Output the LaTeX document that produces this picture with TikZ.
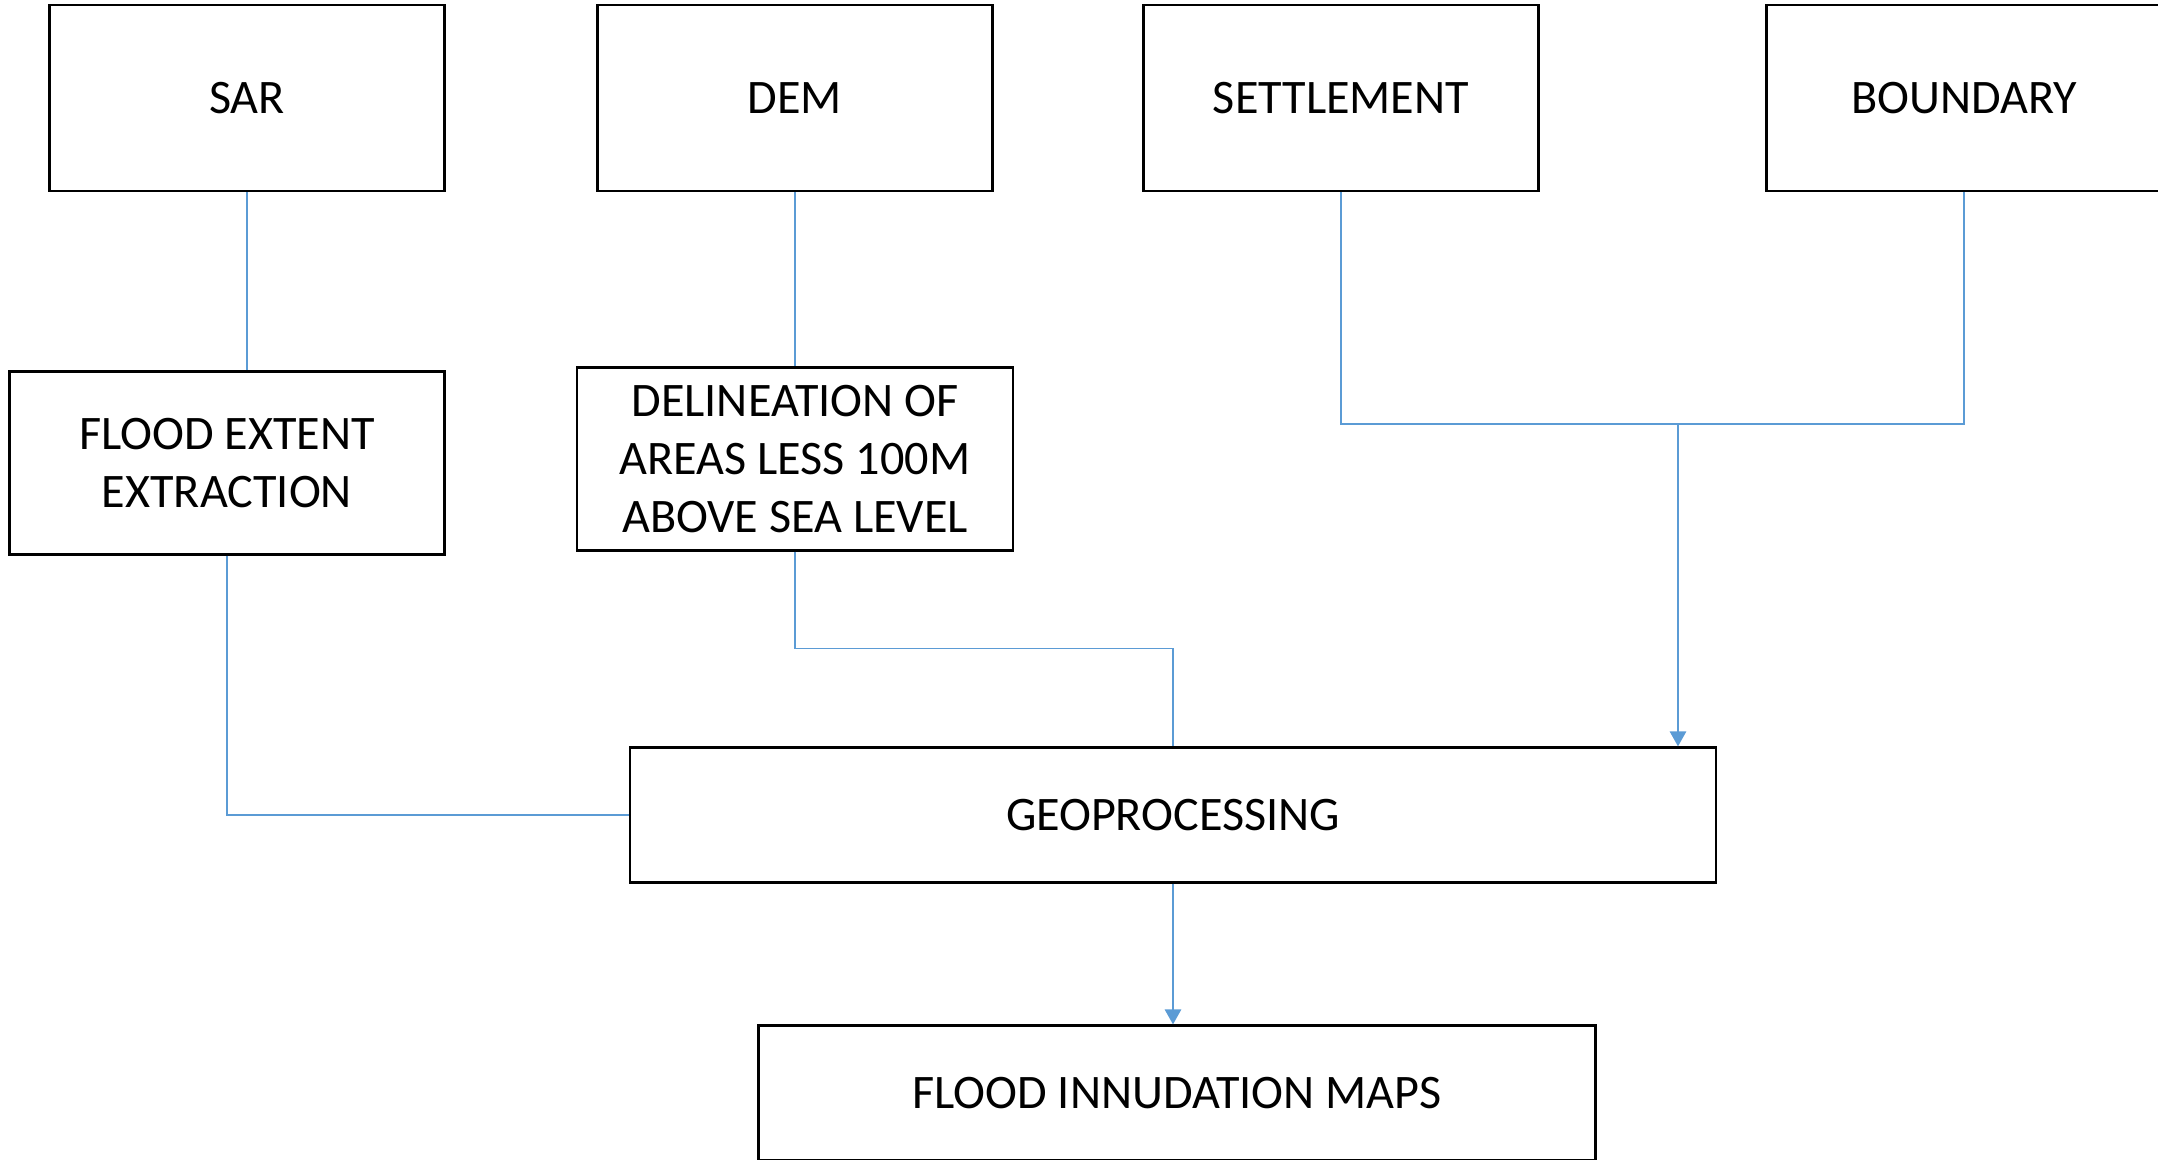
\documentclass[tikz,border=0pt]{standalone}
\usepackage{fontspec}
\setmainfont{Carlito}
\usetikzlibrary{arrows.meta,calc}

\definecolor{linkblue}{HTML}{5B9BD5}

\begin{document}
\begin{tikzpicture}[
    box/.style={draw=black,line width=0.6pt,align=center,inner sep=0pt,
        font=\fontsize{13.7}{16.4}\selectfont},
    link/.style={draw=linkblue,line width=0.35pt},
    flow/.style={draw=linkblue,line width=0.75pt,-{Triangle[width=1.6mm,length=1.5mm]}}
    ]
    \useasboundingbox (0,0) rectangle (21.58,-11.59);
    \node[box,minimum width=3.95cm,minimum height=1.86cm] (sar) at (2.47,-0.98) {SAR};
    \node[box,minimum width=3.95cm,minimum height=1.86cm] (dem) at (7.95,-0.98) {DEM};
    \node[box,minimum width=3.95cm,minimum height=1.86cm] (settle) at (13.41,-0.98) {SETTLEMENT};
    \node[box,minimum width=3.95cm,minimum height=1.86cm] (bound) at (19.64,-0.98) {BOUNDARY};
    \node[box,minimum width=4.35cm,minimum height=1.83cm] (extent) at (2.27,-4.63) {FLOOD EXTENT\\EXTRACTION};
    \node[box,minimum width=4.36cm,minimum height=1.83cm] (delin) at (7.95,-4.59) {DELINEATION OF\\AREAS LESS 100M\\ABOVE SEA LEVEL};
    \node[box,minimum width=10.86cm,minimum height=1.35cm] (geo) at (11.73,-8.15) {GEOPROCESSING};
    \node[box,minimum width=8.37cm,minimum height=1.35cm] (maps) at (11.77,-10.93) {FLOOD INNUDATION MAPS};
    \coordinate (junc) at (16.78,-4.24);

    \draw[link,line width=0.5pt] (sar.south) -- (sar.south |- extent.north);
    \draw[link,line width=0.5pt] (dem.south) -- (delin.north);
    \draw[link] (settle.south) |- (junc) -| (bound.south);
    \draw[flow] (junc) -- (junc |- geo.north);
    \draw[link] (extent.south) |- (geo.west);
    \draw[link] (delin.south) -- ++(0,-0.97) -| (geo.north);
    \draw[flow] (geo.south) -- (geo.south |- maps.north);
\end{tikzpicture}
\end{document}
